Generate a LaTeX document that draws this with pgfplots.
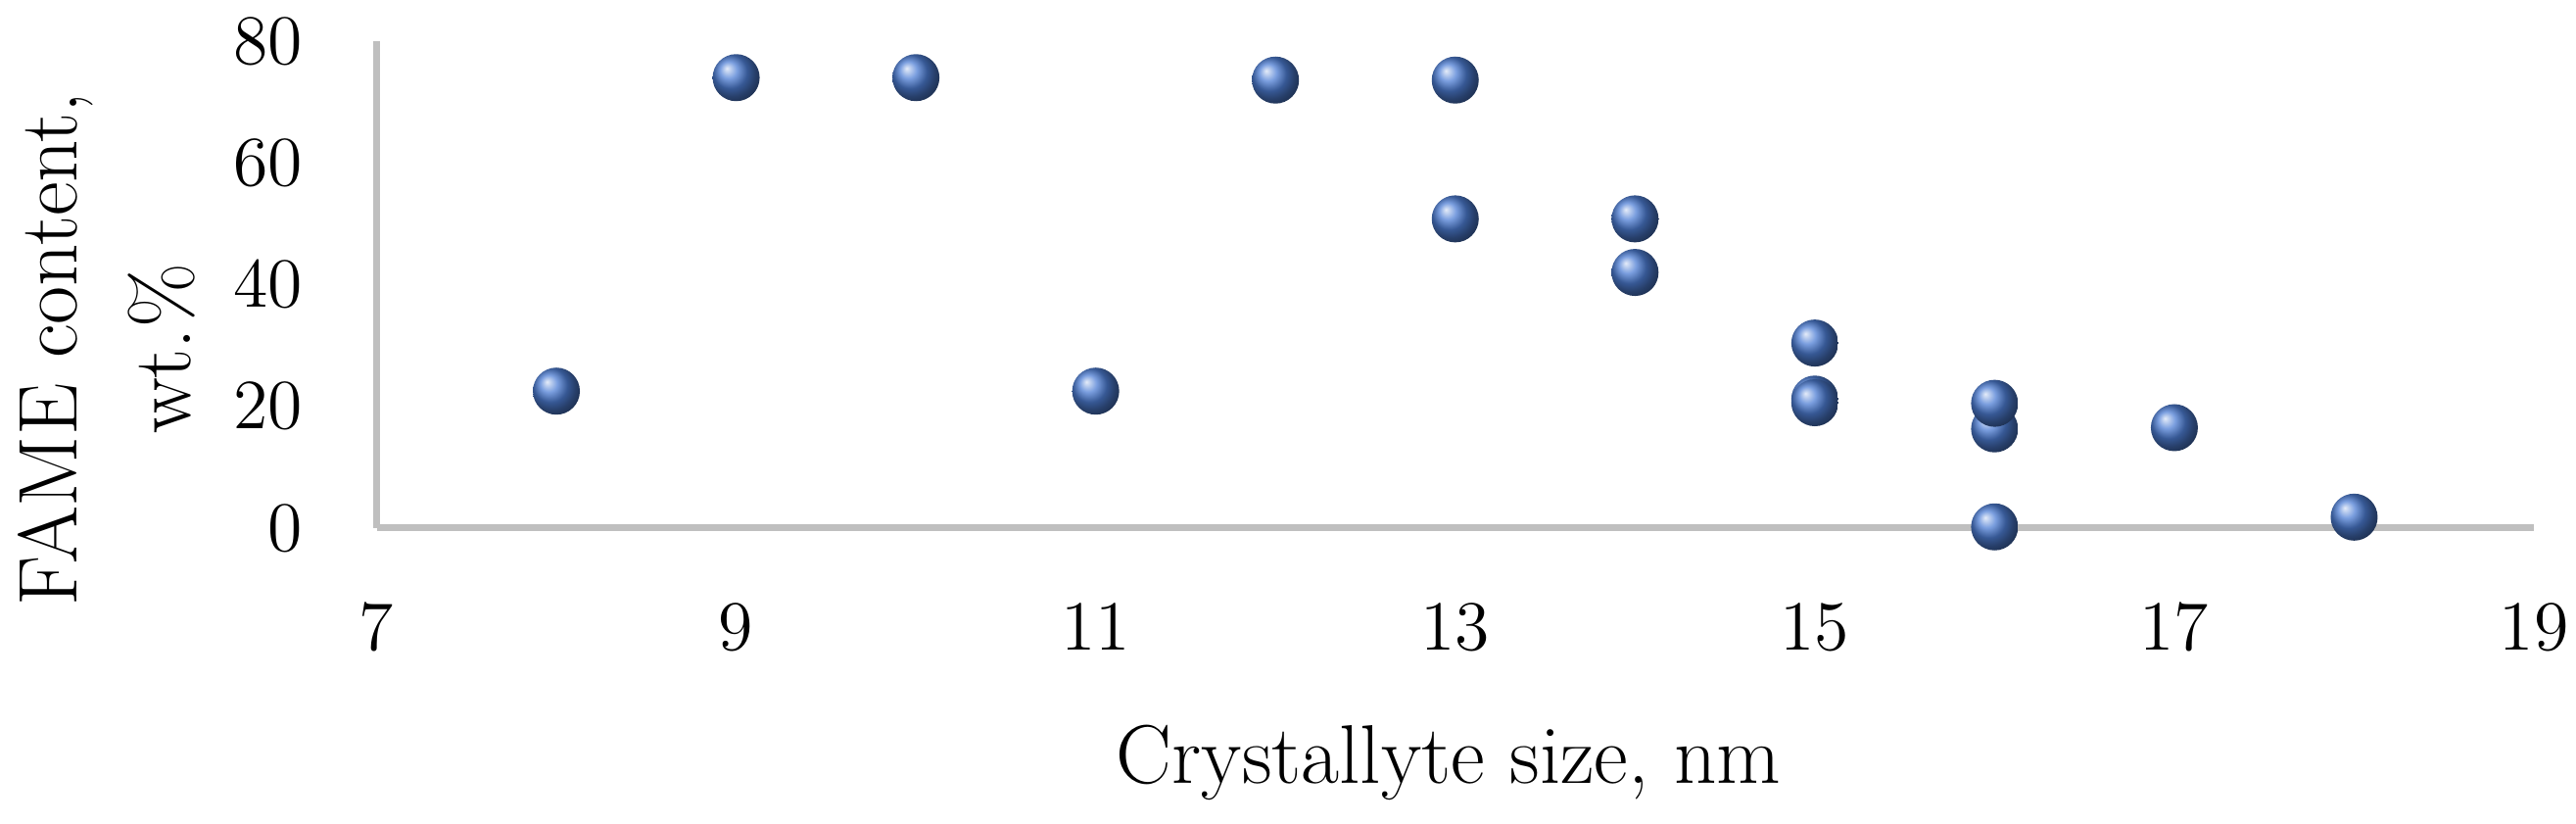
\documentclass[border=0pt]{standalone}
\usepackage{pgfplots}
\pgfplotsset{compat=1.18}
\definecolor{axisgray}{RGB}{191,191,191}
\definecolor{ballblue}{RGB}{78,126,212}

\pgfplotstableread{
x y
8 22.5
9 74.0
10 74.0
11 22.5
12 73.6
13 73.6
13 50.8
14 50.8
14 42.0
15 30.4
15 21.2
15 20.6
16 16.3
16 20.5
16 0.2
17 16.5
18 1.8
}\fametable

\begin{document}
\begin{tikzpicture}
\useasboundingbox (-76.9pt,-60.4pt) rectangle (449.1pt,107.8pt);
\begin{axis}[
    at={(0pt,0pt)}, anchor=south west,
    scale only axis,
    width=440.5pt, height=99.4pt,
    xmin=7, xmax=19, ymin=0, ymax=80,
    xtick={7,9,...,19}, ytick={0,20,...,80},
    axis x line*=bottom, axis y line*=left,
    axis line style={draw=axisgray, line width=1.4pt, -},
    major tick length=0pt,
    tick label style={font=\fontsize{14}{16}\selectfont},
    xticklabel style={anchor=center, yshift=-20.3pt},
    yticklabel style={anchor=east, xshift=-11.6pt},
    xlabel={Crystallyte size, nm},
    ylabel={FAME content,\\wt.\%},
    label style={font=\fontsize{17}{23.2}\selectfont},
    xlabel style={at={(axis description cs:0.497,-0.525)}, anchor=base},
    ylabel style={at={(axis description cs:-0.1253,0.368)}, anchor=center, align=center},
    clip=false,
]
\addplot[only marks, mark=ball, mark size=4.8pt,
    mark options={ball color=ballblue, draw opacity=0}] table {\fametable};
\end{axis}
\end{tikzpicture}
\end{document}
